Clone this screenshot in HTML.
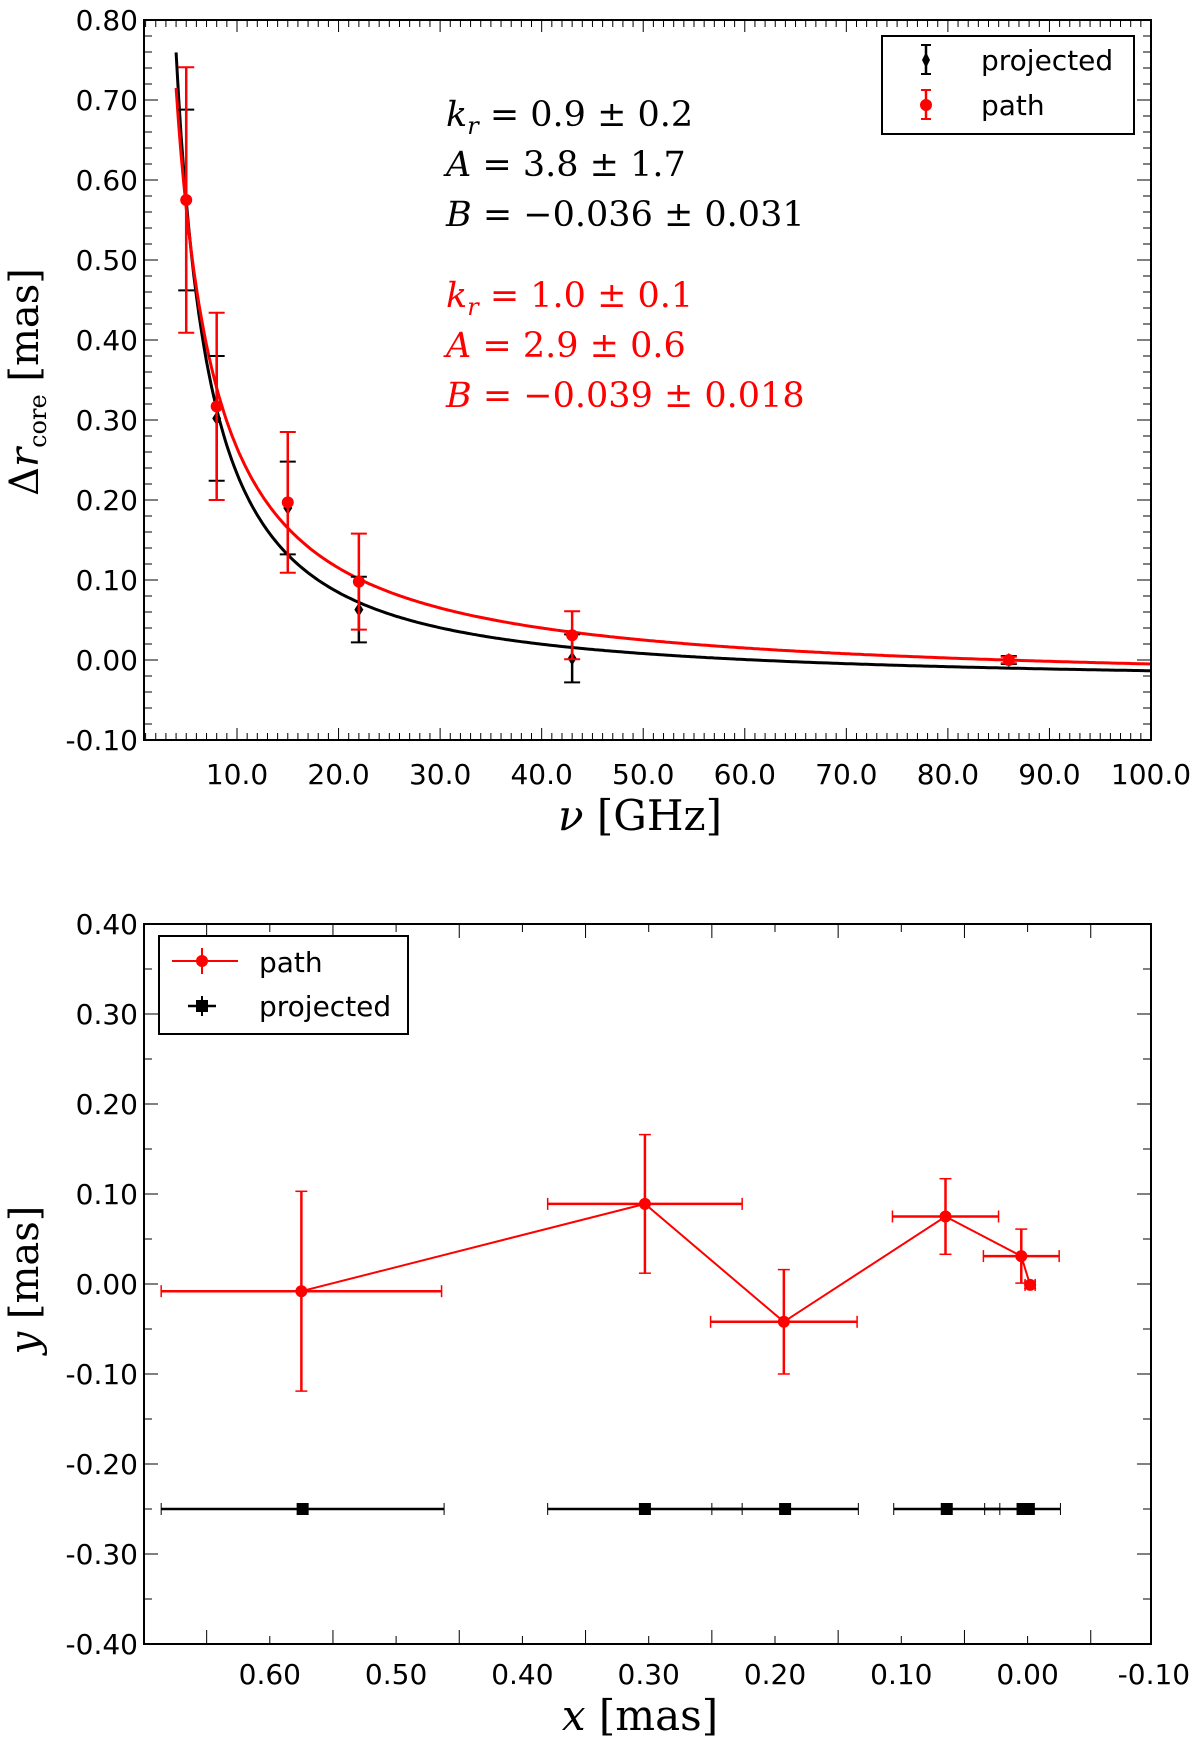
<!DOCTYPE html>
<html><head><meta charset="utf-8"><style>
html,body{margin:0;padding:0;background:#fff;}
svg{display:block;font-family:"DejaVu Sans","Liberation Sans",sans-serif;}
.tl{font-size:28px;fill:#000;}
.ser{font-family:"DejaVu Serif","Liberation Serif",serif;}
</style></head><body>
<svg id="fig" width="1200" height="1746" viewBox="0 0 1200 1746" xmlns="http://www.w3.org/2000/svg">
<rect width="1200" height="1746" fill="#fff"/>
<g id="top"></g>
<g id="bot"></g>
</svg>
<script>
// ---- top chart data ----
const freqs = [5, 8, 15, 22, 43, 86];
const projVals = [0.575, 0.302, 0.19, 0.063, 0.002, 0.0];
const projErr = [0.113, 0.078, 0.058, 0.041, 0.03, 0.005];
const pathVals = [0.575, 0.317, 0.197, 0.098, 0.031, 0.0];
const pathErr = [0.166, 0.117, 0.088, 0.06, 0.03, 0.004];
const fitBlack = [0.833, 4.17, -0.03];   // kr, A, B (as drawn)
const fitRed = [1.0, 3.0, -0.035];
const topXTicks = [10,20,30,40,50,60,70,80,90,100];
const topYTicks = [0.8,0.7,0.6,0.5,0.4,0.3,0.2,0.1,0.0,-0.1];
// ---- bottom chart data ----
const pathX = [0.575, 0.303, 0.193, 0.065, 0.005, -0.002];
const pathY = [-0.008, 0.089, -0.042, 0.075, 0.031, -0.001];
const pathXErr = [0.111, 0.077, 0.058, 0.042, 0.03, 0.004];
const pathYErr = [0.111, 0.077, 0.058, 0.042, 0.03, 0.004];
const projX = [0.574, 0.303, 0.192, 0.064, 0.004, -0.001];
const projY = [-0.25, -0.25, -0.25, -0.25, -0.25, -0.25];
const projXErr = [0.112, 0.077, 0.058, 0.042, 0.03, 0.004];
const botXTicks = [0.6,0.5,0.4,0.3,0.2,0.1,0.0,-0.1];
const botYTicks = [0.4,0.3,0.2,0.1,0.0,-0.1,-0.2,-0.3,-0.4];

const NS="http://www.w3.org/2000/svg";
function mk(parent,tag,attrs,text){const e=document.createElementNS(NS,tag);for(const k in attrs)e.setAttribute(k,attrs[k]);if(text!==undefined)e.textContent=text;parent.appendChild(e);return e;}

// ===== TOP =====
const T=document.getElementById('top');
const L=144,R=1151,tT=20,tB=740;
const xT=v=>237+(v-10)*(R-237)/90;
const yT=v=>tT+(0.8-v)*800;
for(let v=1;v<=100;v++){const x=xT(v);if(x<L)continue;const len=(v%10===0)?12:7;
 const t1=mk(T,'line',{x1:x,y1:tB,x2:x,y2:tB-len,stroke:'#000','stroke-width':1});
 
 const t2=mk(T,'line',{x1:x,y1:tT,x2:x,y2:tT+len,stroke:'#000','stroke-width':1});
 }
for(let i=0;i<=45;i++){const v=0.8-i*0.02;const y=yT(v);const len=(i%5===0)?14:8;
 const a=mk(T,'line',{x1:L,y1:y,x2:L+len,y2:y,stroke:'#000','stroke-width':1});
 
 const b=mk(T,'line',{x1:R,y1:y,x2:R-len,y2:y,stroke:'#000','stroke-width':1});
 }
topXTicks.forEach(v=>{const t=mk(T,'text',{x:xT(v),y:784,class:'tl','text-anchor':'middle'},v.toFixed(1));
 });
topYTicks.forEach(v=>{const t=mk(T,'text',{x:138,y:yT(v)+10,class:'tl','text-anchor':'end'},v.toFixed(2));
 });
function curve(p,start,color,name){let d='';for(let v=start;v<=100;v+=0.25){const y=p[1]*Math.pow(v,-1/p[0])+p[2];d+=(d?'L':'M')+xT(v).toFixed(1)+','+yT(y).toFixed(1);}
 const e=mk(T,'path',{d:d,fill:'none',stroke:color,'stroke-width':3});}
curve(fitBlack,4.0,'#000','fit-curve-projected');
curve(fitRed,4.0,'#f00','fit-curve-path');
freqs.forEach((f,i)=>{const x=xT(f);
 const g=mk(T,'g',{});
 mk(g,'line',{x1:x,y1:yT(projVals[i]+projErr[i]),x2:x,y2:yT(projVals[i]-projErr[i]),stroke:'#000','stroke-width':2.5});
 [projVals[i]+projErr[i],projVals[i]-projErr[i]].forEach(v=>mk(g,'line',{x1:x-8,x2:x+8,y1:yT(v),y2:yT(v),stroke:'#000','stroke-width':2}));
 const y=yT(projVals[i]);mk(g,'path',{d:`M${x},${y-7}L${x+4.5},${y}L${x},${y+7}L${x-4.5},${y}Z`,fill:'#000'});});
freqs.forEach((f,i)=>{const x=xT(f);
 const g=mk(T,'g',{});
 mk(g,'line',{x1:x,y1:yT(pathVals[i]+pathErr[i]),x2:x,y2:yT(pathVals[i]-pathErr[i]),stroke:'#f00','stroke-width':2.5});
 [pathVals[i]+pathErr[i],pathVals[i]-pathErr[i]].forEach(v=>mk(g,'line',{x1:x-8,x2:x+8,y1:yT(v),y2:yT(v),stroke:'#f00','stroke-width':2}));
 mk(g,'circle',{cx:x,cy:yT(pathVals[i]),r:6,fill:'#f00'});});
const fr=mk(T,'rect',{x:L,y:tT,width:R-L,height:tB-tT,fill:'none',stroke:'#000','stroke-width':2});

const annB=[['k','0.9 ± 0.2'],['A','3.8 ± 1.7'],['B','−0.036 ± 0.031']];
const annR=[['k','1.0 ± 0.1'],['A','2.9 ± 0.6'],['B','−0.039 ± 0.018']];
function ann(arr,y0,color,name){arr.forEach((a,i)=>{const t=mk(T,'text',{x:446,y:y0+i*50,class:'ser','font-size':35,fill:color});
 
 mk(t,'tspan',{'font-style':'italic'},a[0]);
 if(a[0]==='k'){mk(t,'tspan',{'font-style':'italic','font-size':24,dy:8},'r');mk(t,'tspan',{dy:-8},' = '+a[1]);}
 else mk(t,'tspan',{},' = '+a[1]);});}
ann(annB,126,'#000','fit-params-projected');
ann(annR,307,'#f00','fit-params-path');
const lg=mk(T,'g',{});
mk(lg,'rect',{x:882,y:36,width:252,height:98,fill:'#fff',stroke:'#000','stroke-width':2});
mk(lg,'line',{x1:926,x2:926,y1:45,y2:74,stroke:'#000','stroke-width':2.5});
mk(lg,'line',{x1:921,x2:931,y1:45,y2:45,stroke:'#000','stroke-width':2});mk(lg,'line',{x1:921,x2:931,y1:74,y2:74,stroke:'#000','stroke-width':2});
mk(lg,'path',{d:'M926,52L930,60L926,68L922,60Z',fill:'#000'});
mk(lg,'text',{x:981,y:70,class:'tl','font-size':33},'projected');
mk(lg,'line',{x1:926,x2:926,y1:90,y2:119,stroke:'#f00','stroke-width':2.5});
mk(lg,'line',{x1:921,x2:931,y1:90,y2:90,stroke:'#f00','stroke-width':2});mk(lg,'line',{x1:921,x2:931,y1:119,y2:119,stroke:'#f00','stroke-width':2});
mk(lg,'circle',{cx:926,cy:105,r:6,fill:'#f00'});
mk(lg,'text',{x:981,y:115,class:'tl','font-size':33},'path');
const xt=mk(T,'text',{x:640,y:830,class:'ser','font-size':42,'text-anchor':'middle'});

mk(xt,'tspan',{'font-style':'italic'},'ν');mk(xt,'tspan',{},' [GHz]');
const yt=mk(T,'text',{x:0,y:0,class:'ser','font-size':40,'text-anchor':'middle',transform:'translate(38,382) rotate(-90)'});

mk(yt,'tspan',{},'Δ');mk(yt,'tspan',{'font-style':'italic'},'r');mk(yt,'tspan',{'font-size':24,dy:8},'core');mk(yt,'tspan',{dy:-8},' [mas]');

// ===== BOTTOM =====
const B=document.getElementById('bot');
const bT=924,bB=1644;
const xB=v=>143.5+(0.7-v)*1263;
const yB=v=>bT+(0.4-v)*900;
for(let i=0;i<=16;i++){const v=0.7-i*0.05;const x=xB(v);if(x>R)continue;const len=(i%2===1)?14:8;
 const a=mk(B,'line',{x1:x,y1:bB,x2:x,y2:bB-len,stroke:'#000','stroke-width':1});
 const b=mk(B,'line',{x1:x,y1:bT,x2:x,y2:bT+len,stroke:'#000','stroke-width':1});}
for(let i=0;i<=16;i++){const v=0.4-i*0.05;const y=yB(v);const len=(i%2===0)?14:8;
 const a=mk(B,'line',{x1:L,y1:y,x2:L+len,y2:y,stroke:'#000','stroke-width':1});
 const b=mk(B,'line',{x1:R,y1:y,x2:R-len,y2:y,stroke:'#000','stroke-width':1});}
botXTicks.forEach(v=>{const t=mk(B,'text',{x:xB(v),y:1684,class:'tl','text-anchor':'middle'},v.toFixed(2));
 });
botYTicks.forEach(v=>{const t=mk(B,'text',{x:138,y:yB(v)+10,class:'tl','text-anchor':'end'},v.toFixed(2));
 });
let pd='';pathX.forEach((x,i)=>{pd+=(i?'L':'M')+xB(x).toFixed(1)+','+yB(pathY[i]).toFixed(1);});
const pl=mk(B,'path',{d:pd,fill:'none',stroke:'#f00','stroke-width':2});
pathX.forEach((xv,i)=>{const x=xB(xv),y=yB(pathY[i]);
 const g=mk(B,'g',{});
 const x1=xB(xv+pathXErr[i]),x2=xB(xv-pathXErr[i]),y1=yB(pathY[i]+pathYErr[i]),y2=yB(pathY[i]-pathYErr[i]);
 mk(g,'line',{x1:x1,x2:x2,y1:y,y2:y,stroke:'#f00','stroke-width':2.5});
 mk(g,'line',{x1:x,x2:x,y1:y1,y2:y2,stroke:'#f00','stroke-width':2.5});
 [x1,x2].forEach(xx=>mk(g,'line',{x1:xx,x2:xx,y1:y-6,y2:y+6,stroke:'#f00','stroke-width':1.5}));
 [y1,y2].forEach(yy=>mk(g,'line',{x1:x-6,x2:x+6,y1:yy,y2:yy,stroke:'#f00','stroke-width':1.5}));
 mk(g,'circle',{cx:x,cy:y,r:6,fill:'#f00'});});
projX.forEach((xv,i)=>{const x=xB(xv),y=yB(projY[i]);
 const g=mk(B,'g',{});
 const x1=xB(xv+projXErr[i]),x2=xB(xv-projXErr[i]);
 mk(g,'line',{x1:x1,x2:x2,y1:y,y2:y,stroke:'#000','stroke-width':2.5});
 [x1,x2].forEach(xx=>mk(g,'line',{x1:xx,x2:xx,y1:y-6,y2:y+6,stroke:'#000','stroke-width':1}));
 mk(g,'rect',{x:x-6,y:y-6,width:12,height:12,fill:'#000'});});
const fr2=mk(B,'rect',{x:L,y:bT,width:R-L,height:bB-bT,fill:'none',stroke:'#000','stroke-width':2});

const lg2=mk(B,'g',{});
mk(lg2,'rect',{x:159,y:936,width:249,height:98,fill:'#fff',stroke:'#000','stroke-width':2});
mk(lg2,'line',{x1:172,x2:238,y1:961,y2:961,stroke:'#f00','stroke-width':2});
mk(lg2,'line',{x1:202,x2:202,y1:948,y2:974,stroke:'#f00','stroke-width':2});
mk(lg2,'circle',{cx:202,cy:961,r:6,fill:'#f00'});
mk(lg2,'text',{x:259,y:972,class:'tl','font-size':33},'path');
mk(lg2,'line',{x1:188,x2:216,y1:1006,y2:1006,stroke:'#000','stroke-width':2.5});
mk(lg2,'line',{x1:202,x2:202,y1:996,y2:1016,stroke:'#000','stroke-width':2});
mk(lg2,'rect',{x:196,y:1000,width:12,height:12,fill:'#000'});
mk(lg2,'text',{x:259,y:1016,class:'tl','font-size':33},'projected');
const xt2=mk(B,'text',{x:640,y:1730,class:'ser','font-size':42,'text-anchor':'middle'});

mk(xt2,'tspan',{'font-style':'italic'},'x');mk(xt2,'tspan',{},' [mas]');
const yt2=mk(B,'text',{x:0,y:0,class:'ser','font-size':40,'text-anchor':'middle',transform:'translate(38,1280) rotate(-90)'});

mk(yt2,'tspan',{'font-style':'italic'},'y');mk(yt2,'tspan',{},' [mas]');
</script>
</body></html>
